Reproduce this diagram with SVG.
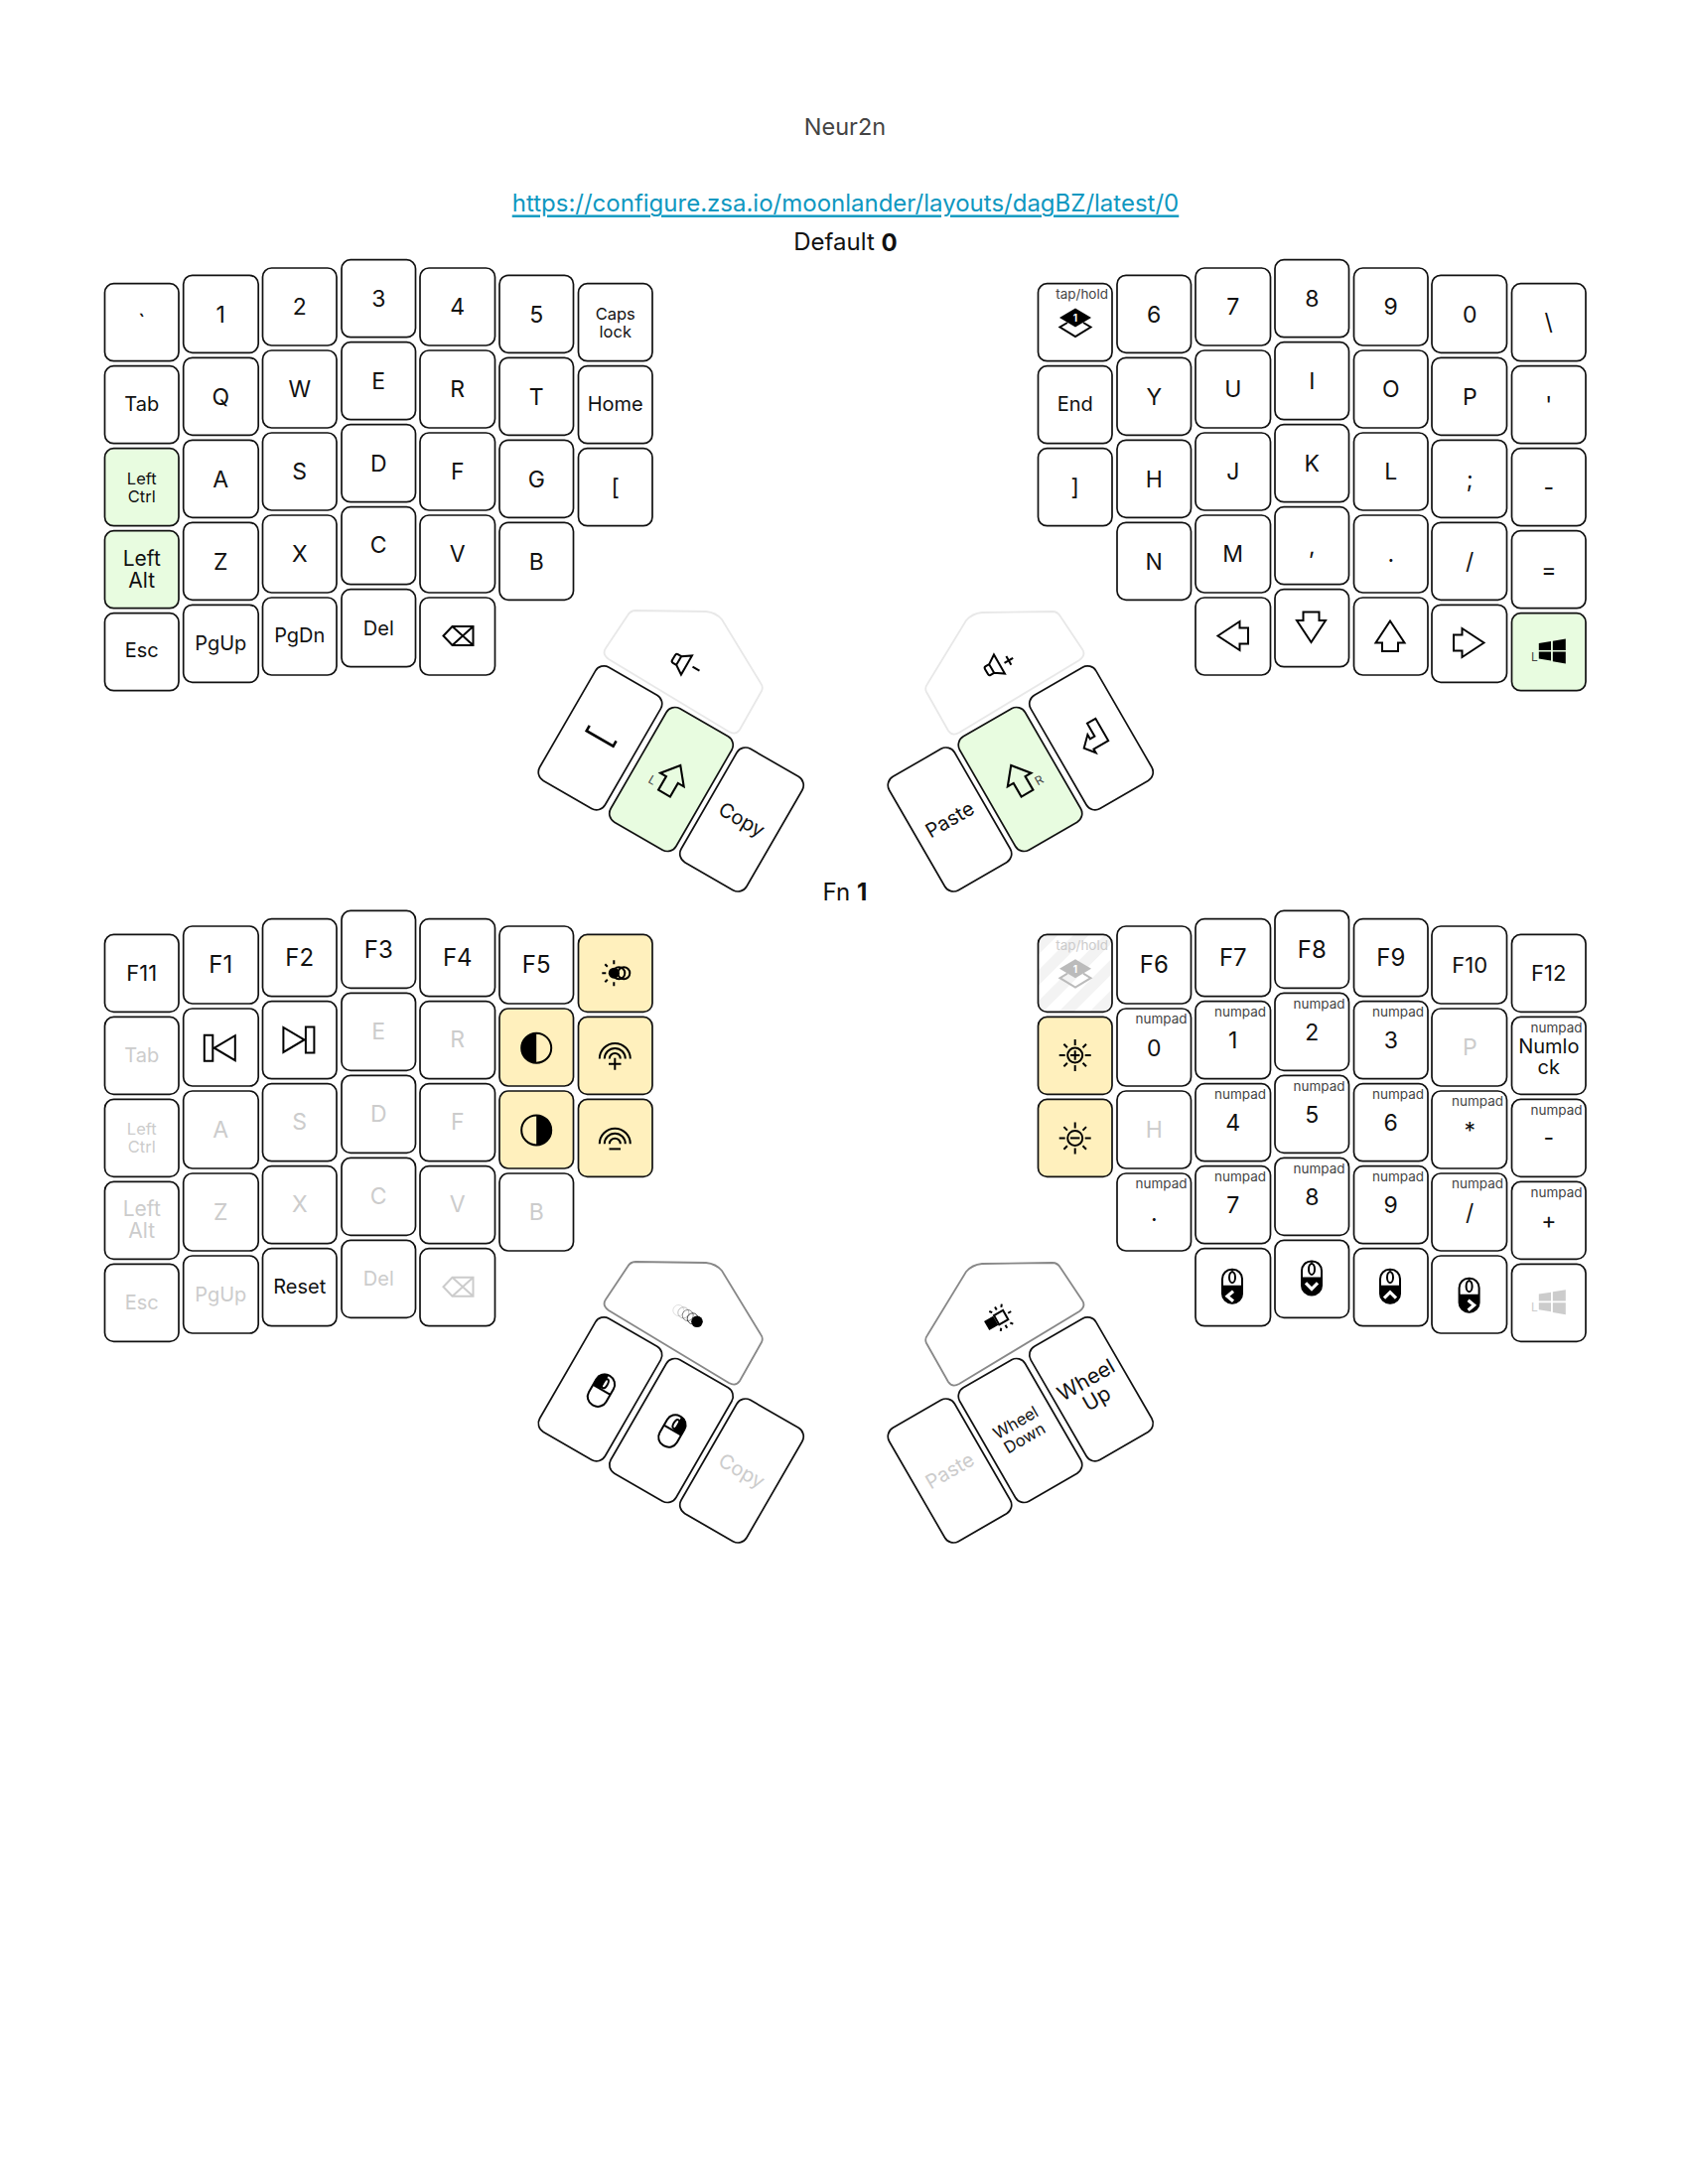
<svg xmlns="http://www.w3.org/2000/svg" width="1700" height="2200" viewBox="0 0 1700 2200">
<style>
text{font-family:Inter,"Noto Sans","Liberation Sans",sans-serif;text-anchor:middle;dominant-baseline:central;fill:#111;font-size:23px}
rect.k{width:74.5px;height:78px;rx:9px;ry:9px;fill:#fff;stroke:#111;stroke-width:1.7}
rect.w{width:75.5px}
rect.th{width:76px;height:132px;rx:10px;ry:10px;fill:#fff;stroke:#111;stroke-width:1.7}
.pent{fill:#fff;stroke:#e8e8e8;stroke-width:1.8}
.pent2{fill:#fff;stroke:#888;stroke-width:1.8}
rect.g{fill:#e8fce0}
rect.y{fill:#fff0bd}
rect.h{fill:url(#hatch)}
text.s{font-size:20px}
text.f{font-size:24px}
text.e{font-size:22px}
text.a{font-size:21px}
text.m{font-size:16.5px}
text.n{font-size:13.5px;text-anchor:end;fill:#444}
text.b{font-size:24px}
text.off,.off text{fill:#ccc}
text.d{font-size:12px;fill:#444}
.off{color:#ccc}
.ic{fill:none;stroke:currentColor;stroke-width:2}
.fi{fill:currentColor;stroke:none}
.ln{fill:none;stroke:currentColor;stroke-width:2.6}
.ch{fill:none;stroke:#fff;stroke-width:3.2}
</style>
<defs>
<pattern id="hatch" width="22" height="22" patternUnits="userSpaceOnUse" patternTransform="rotate(45)"><rect width="22" height="22" fill="#fff"/><rect width="11" height="22" fill="#f3f3f3"/></pattern>
<g id="i-arrow"><path class="ic" d="M-15,0L7,-14.5V-8H15.5V8H7V14.5Z"/></g>
<g id="i-bs"><path class="ic" d="M-15,0L-6,-9.5H15V9.5H-6ZM-6,-9.5L15,9.5M-6,9.5L15,-9.5" stroke-width="2.3"/></g>
<g id="i-win"><path class="fi" d="M-12.5,-7.5L-1.2,-9.3V-1H-12.5ZM0.5,-9.6L12.5,-11.6V-1H0.5ZM-12.5,0.5H-1.2V8.8L-12.5,7ZM0.5,0.5H12.5V11.6L0.5,9.6Z"/></g>
<g id="i-layer"><path class="ic" d="M-8,5L-15.5,9.5L0,19L15.5,9.5L8,5"/><path class="fi" d="M0,-9.5L16,0L0,9.5L-16,0Z"/></g>
<g id="i-sh"><path class="ic" d="M0,-16L-13,0H-6.5V15H6.5V0H13Z"/></g>
<g id="i-spk"><path class="ic" d="M-5,-5H-9Q-11,-5 -11,-3V3Q-11,5 -9,5H-5L4,11V-11L-5,-5V5"/></g>
<g id="i-mouse"><rect class="ic" x="-10" y="-17" width="20" height="34" rx="9.5"/><path class="fi" d="M-10,-1H10V7.5A10,9.5 0 0 1 -10,7.5Z"/><ellipse class="ic" cx="0" cy="-9" rx="3" ry="5.5" stroke-width="1.6"/><path d="M0,-17V-15" stroke="currentColor" stroke-width="1.5"/></g>
<g id="i-click"><rect class="ic" x="-10" y="-17" width="20" height="34" rx="9.5"/><path class="ic" d="M-10,-1H10"/><ellipse class="ic" cx="0" cy="-8" rx="2.5" ry="5" stroke-width="1.6"/></g>
<g id="i-sun"><circle class="ic" r="7.5"/><path class="ic" d="M-16,0H-10M10,0H16M0,-16V-10M0,10V16M-11.3,-11.3L-7.8,-7.8M11.3,-11.3L7.8,-7.8M-11.3,11.3L-7.8,7.8M11.3,11.3L7.8,7.8"/></g>
<g id="i-arcs"><path class="ic" d="M-15.5,4A15.5,15.5 0 0 1 15.5,4M-10.5,4A10.5,10.5 0 0 1 10.5,4M-5.5,4A5.5,5.5 0 0 1 5.5,4" stroke-width="2.4"/></g>
</defs>
<rect width="1700" height="2200" fill="#fff"/>
<g id="title">
<text class="b" x="851" y="127.5" style="fill:#444;font-size:23.5px">Neur2n</text>
<text class="b" x="851.5" y="204" style="fill:#0e97c0;text-decoration:underline">https://configure.zsa.io/moonlander/layouts/dagBZ/latest/0</text>
<text class="b" x="851.5" y="243.5">Default <tspan font-weight="700">0</tspan></text>
<text class="b" x="851" y="898">Fn <tspan font-weight="700">1</tspan></text>
</g>
<g id="connectors"></g>
<g id="layer0-left">
<g id="k0-l00"><rect class="k" x="105.5" y="285.7"/><text x="142.75" y="324.5">`</text></g>
<g id="k0-l01"><rect class="k" x="105.5" y="368.7"/><text class="s" x="142.75" y="406.5">Tab</text></g>
<g id="k0-l02"><rect class="k g" x="105.5" y="451.7"/><text class="m" x="142.75" y="481.5">Left</text><text class="m" x="142.75" y="499.5">Ctrl</text></g>
<g id="k0-l03"><rect class="k g" x="105.5" y="534.7"/><text class="a" x="142.75" y="562">Left</text><text class="a" x="142.75" y="584">Alt</text></g>
<g id="k0-l04"><rect class="k" x="105.5" y="617.7"/><text class="s" x="142.75" y="655">Esc</text></g>
<g id="k0-l10"><rect class="k w" x="184.7" y="277.3"/><text x="222.25" y="316.5">1</text></g>
<g id="k0-l11"><rect class="k w" x="184.7" y="360.3"/><text x="222.25" y="399.5">Q</text></g>
<g id="k0-l12"><rect class="k w" x="184.7" y="443.3"/><text x="222.25" y="482.5">A</text></g>
<g id="k0-l13"><rect class="k w" x="184.7" y="526.3"/><text x="222.25" y="565.5">Z</text></g>
<g id="k0-l14"><rect class="k w" x="184.7" y="609.3"/><text class="s" x="222.25" y="648">PgUp</text></g>
<g id="k0-l20"><rect class="k" x="264.5" y="270"/><text x="301.75" y="308.8">2</text></g>
<g id="k0-l21"><rect class="k" x="264.5" y="353"/><text x="301.75" y="391.8">W</text></g>
<g id="k0-l22"><rect class="k" x="264.5" y="436"/><text x="301.75" y="474.8">S</text></g>
<g id="k0-l23"><rect class="k" x="264.5" y="519"/><text x="301.75" y="557.8">X</text></g>
<g id="k0-l24"><rect class="k" x="264.5" y="602"/><text class="s" x="301.75" y="640">PgDn</text></g>
<g id="k0-l30"><rect class="k" x="344" y="261.7"/><text x="381.25" y="300.5">3</text></g>
<g id="k0-l31"><rect class="k" x="344" y="344.7"/><text x="381.25" y="383.5">E</text></g>
<g id="k0-l32"><rect class="k" x="344" y="427.7"/><text x="381.25" y="466.5">D</text></g>
<g id="k0-l33"><rect class="k" x="344" y="510.7"/><text x="381.25" y="549">C</text></g>
<g id="k0-l34"><rect class="k" x="344" y="593.7"/><text class="s" x="381.25" y="632.5">Del</text></g>
<g id="k0-l40"><rect class="k w" x="423" y="270"/><text x="460.75" y="308.8">4</text></g>
<g id="k0-l41"><rect class="k w" x="423" y="353"/><text x="460.75" y="391.8">R</text></g>
<g id="k0-l42"><rect class="k w" x="423" y="436"/><text x="460.75" y="474.8">F</text></g>
<g id="k0-l43"><rect class="k w" x="423" y="519"/><text x="460.75" y="557.8">V</text></g>
<g id="k0-l44"><rect class="k w" x="423" y="602"/><use href="#i-bs" transform="translate(461.5,640.5)"/></g>
<g id="k0-l50"><rect class="k" x="503" y="277.3"/><text x="540.25" y="316.5">5</text></g>
<g id="k0-l51"><rect class="k" x="503" y="360.3"/><text x="540.25" y="399.5">T</text></g>
<g id="k0-l52"><rect class="k" x="503" y="443.3"/><text x="540.25" y="482.5">G</text></g>
<g id="k0-l53"><rect class="k" x="503" y="526.3"/><text x="540.25" y="565.5">B</text></g>
<g id="k0-l60"><rect class="k" x="582.5" y="285.7"/><text class="m" x="619.75" y="315.5">Caps</text><text class="m" x="619.75" y="333.5">lock</text></g>
<g id="k0-l61"><rect class="k" x="582.5" y="368.7"/><text class="s" x="619.75" y="406.5">Home</text></g>
<g id="k0-l62"><rect class="k" x="582.5" y="451.7"/><text x="619.75" y="491">[</text></g>
</g>
<g id="layer0-right">
<g id="k0-r00"><rect class="k" x="1045.5" y="285.7"/><text class="n" x="1116" y="296">tap/hold</text><use href="#i-layer" transform="translate(1083,320)"/><text x="1083" y="320" style="font-size:10px;fill:#fff;font-weight:700">1</text></g>
<g id="k0-r01"><rect class="k" x="1045.5" y="368.7"/><text class="s" x="1082.75" y="406.5">End</text></g>
<g id="k0-r02"><rect class="k" x="1045.5" y="451.7"/><text x="1082.75" y="491">]</text></g>
<g id="k0-r10"><rect class="k" x="1125" y="277.3"/><text x="1162.25" y="316.5">6</text></g>
<g id="k0-r11"><rect class="k" x="1125" y="360.3"/><text x="1162.25" y="399.5">Y</text></g>
<g id="k0-r12"><rect class="k" x="1125" y="443.3"/><text x="1162.25" y="482.5">H</text></g>
<g id="k0-r13"><rect class="k" x="1125" y="526.3"/><text x="1162.25" y="565.5">N</text></g>
<g id="k0-r20"><rect class="k w" x="1204" y="270"/><text x="1241.75" y="308.8">7</text></g>
<g id="k0-r21"><rect class="k w" x="1204" y="353"/><text x="1241.75" y="391.8">U</text></g>
<g id="k0-r22"><rect class="k w" x="1204" y="436"/><text x="1241.75" y="474.8">J</text></g>
<g id="k0-r23"><rect class="k w" x="1204" y="519"/><text x="1241.75" y="557.8">M</text></g>
<g id="k0-r24"><rect class="k w" x="1204" y="602"/><use href="#i-arrow" transform="translate(1241.5,640.5)"/></g>
<g id="k0-r30"><rect class="k" x="1284" y="261.7"/><text x="1321.25" y="300.5">8</text></g>
<g id="k0-r31"><rect class="k" x="1284" y="344.7"/><text x="1321.25" y="383.5">I</text></g>
<g id="k0-r32"><rect class="k" x="1284" y="427.7"/><text x="1321.25" y="466.5">K</text></g>
<g id="k0-r33"><rect class="k" x="1284" y="510.7"/><text x="1321.25" y="549.5">,</text></g>
<g id="k0-r34"><rect class="k" x="1284" y="593.7"/><use href="#i-arrow" transform="translate(1320.5,632) rotate(-90)"/></g>
<g id="k0-r40"><rect class="k" x="1363.5" y="270"/><text x="1400.75" y="308.8">9</text></g>
<g id="k0-r41"><rect class="k" x="1363.5" y="353"/><text x="1400.75" y="391.8">O</text></g>
<g id="k0-r42"><rect class="k" x="1363.5" y="436"/><text x="1400.75" y="474.8">L</text></g>
<g id="k0-r43"><rect class="k" x="1363.5" y="519"/><text x="1400.75" y="557.8">.</text></g>
<g id="k0-r44"><rect class="k" x="1363.5" y="602"/><use href="#i-arrow" transform="translate(1400,640.5) rotate(90)"/></g>
<g id="k0-r50"><rect class="k w" x="1442" y="277.3"/><text x="1480.25" y="316.5">0</text></g>
<g id="k0-r51"><rect class="k w" x="1442" y="360.3"/><text x="1480.25" y="399.5">P</text></g>
<g id="k0-r52"><rect class="k w" x="1442" y="443.3"/><text x="1480.25" y="482.5">;</text></g>
<g id="k0-r53"><rect class="k w" x="1442" y="526.3"/><text x="1480.25" y="565.5">/</text></g>
<g id="k0-r54"><rect class="k w" x="1442" y="609.3"/><use href="#i-arrow" transform="translate(1479.5,647.5) rotate(180)"/></g>
<g id="k0-r60"><rect class="k" x="1522.5" y="285.7"/><text x="1559.75" y="324.5">\</text></g>
<g id="k0-r61"><rect class="k" x="1522.5" y="368.7"/><text x="1559.75" y="407.5">'</text></g>
<g id="k0-r62"><rect class="k" x="1522.5" y="451.7"/><text x="1559.75" y="490.5">-</text></g>
<g id="k0-r63"><rect class="k" x="1522.5" y="534.7"/><text x="1559.75" y="573.5">=</text></g>
<g id="k0-r64"><rect class="k g" x="1522.5" y="617.7"/><use href="#i-win" transform="translate(1563.3,656) scale(1.08)"/><text class="d" x="1545.5" y="661">L</text></g>
</g>
<g id="layer0-thumbs">
<g id="k0-tl3"><path class="pent" d="M640,615L711,616Q721,617 727,624L766,688Q769,692 767,696L745,735Q741,741 734,737L613,664Q606,659 610,653L632,620Q635,615 640,615Z"/><g transform="translate(688,668) rotate(30)"><use href="#i-spk"/><path class="ic" d="M10,-1.7H18"/></g></g>
<g id="k0-tl0" transform="rotate(30 604.5 743.3)"><rect class="th" x="566.5" y="677.3"/><path class="ln" d="M589,738V744H620V738"/></g>
<g id="k0-tl1" transform="rotate(30 676 785)"><rect class="th g" x="638" y="719"/><use href="#i-sh" transform="translate(677,785) scale(1.05)"/><text class="d" x="660" y="795">L</text></g>
<g id="k0-tl2" transform="rotate(30 747 825.5)"><rect class="th" x="709" y="759.5"/><text class="s" x="747" y="825.5">Copy</text></g>
<g id="k0-tr3"><path class="pent" transform="translate(1700,1) scale(-1,1)" d="M640,615L711,616Q721,617 727,624L766,688Q769,692 767,696L745,735Q741,741 734,737L613,664Q606,659 610,653L632,620Q635,615 640,615Z"/><g transform="translate(1003,671) rotate(-30)"><use href="#i-spk"/><path class="ic" d="M9,1.5H19M14,-3.5V6.5"/></g></g>
<g id="k0-tr0" transform="translate(1.5,0) rotate(-30 1097.5 743.3)"><rect class="th" x="1059.5" y="677.3"/><path class="ic" transform="translate(1101,743.6)" d="M-15,5L-5,-5V0H.3V-15H10V10.7H-7V15Z"/></g>
<g id="k0-tr1" transform="translate(1.5,0) rotate(-30 1026 785)"><rect class="th g" x="988" y="719"/><use href="#i-sh" transform="translate(1025,785) scale(1.05)"/><text class="d" x="1042" y="795">R</text></g>
<g id="k0-tr2" transform="translate(1,0) rotate(-30 955.5 825.5)"><rect class="th" x="917.5" y="759.5"/><text class="s" x="955.5" y="825.5">Paste</text></g>
</g>
<g id="layer1-left" transform="translate(0,.7)">
<g id="k1-l00"><rect class="k" x="105.5" y="940.7"/><text class="e" x="142.75" y="979">F11</text></g>
<g id="k1-l01"><rect class="k" x="105.5" y="1023.7"/><text class="s off" x="142.75" y="1062">Tab</text></g>
<g id="k1-l02"><rect class="k" x="105.5" y="1106.7"/><text class="m off" x="142.75" y="1136.5">Left</text><text class="m off" x="142.75" y="1154.5">Ctrl</text></g>
<g id="k1-l03"><rect class="k" x="105.5" y="1189.7"/><text class="a off" x="142.75" y="1217">Left</text><text class="a off" x="142.75" y="1239">Alt</text></g>
<g id="k1-l04"><rect class="k" x="105.5" y="1272.7"/><text class="s off" x="142.75" y="1311">Esc</text></g>
<g id="k1-l10"><rect class="k w" x="184.7" y="932.3"/><text class="f" x="222.25" y="971">F1</text></g>
<g id="k1-l11"><rect class="k w" x="184.7" y="1015.3"/><g transform="translate(221.3,1055)"><path class="ic" d="M-15.5,-13H-7V13H-15.5ZM-5.5,0L15.5,-12.5V12.5Z"/></g></g>
<g id="k1-l12"><rect class="k w" x="184.7" y="1098.3"/><text class="off" x="222.25" y="1137">A</text></g>
<g id="k1-l13"><rect class="k w" x="184.7" y="1181.3"/><text class="off" x="222.25" y="1220">Z</text></g>
<g id="k1-l14"><rect class="k w" x="184.7" y="1264.3"/><text class="s off" x="222.25" y="1303">PgUp</text></g>
<g id="k1-l20"><rect class="k" x="264.5" y="925"/><text class="f" x="301.75" y="963.8">F2</text></g>
<g id="k1-l21"><rect class="k" x="264.5" y="1008"/><g transform="translate(300.9,1046.7) scale(-1,1)"><path class="ic" d="M-15.5,-13H-7V13H-15.5ZM-5.5,0L15.5,-12.5V12.5Z"/></g></g>
<g id="k1-l22"><rect class="k" x="264.5" y="1091"/><text class="off" x="301.75" y="1129.8">S</text></g>
<g id="k1-l23"><rect class="k" x="264.5" y="1174"/><text class="off" x="301.75" y="1212.8">X</text></g>
<g id="k1-l24"><rect class="k" x="264.5" y="1257"/><text class="s" x="301.75" y="1295.8">Reset</text></g>
<g id="k1-l30"><rect class="k" x="344" y="916.7"/><text class="f" x="381.25" y="955.5">F3</text></g>
<g id="k1-l31"><rect class="k" x="344" y="999.7"/><text class="off" x="381.25" y="1038.5">E</text></g>
<g id="k1-l32"><rect class="k" x="344" y="1082.7"/><text class="off" x="381.25" y="1121.5">D</text></g>
<g id="k1-l33"><rect class="k" x="344" y="1165.7"/><text class="off" x="381.25" y="1204.5">C</text></g>
<g id="k1-l34"><rect class="k" x="344" y="1248.7"/><text class="s off" x="381.25" y="1287.5">Del</text></g>
<g id="k1-l40"><rect class="k w" x="423" y="925"/><text class="f" x="460.75" y="963.8">F4</text></g>
<g id="k1-l41"><rect class="k w" x="423" y="1008"/><text class="off" x="460.75" y="1046.8">R</text></g>
<g id="k1-l42"><rect class="k w" x="423" y="1091"/><text class="off" x="460.75" y="1129.8">F</text></g>
<g id="k1-l43"><rect class="k w" x="423" y="1174"/><text class="off" x="460.75" y="1212.8">V</text></g>
<g id="k1-l44" class="off"><rect class="k w" x="423" y="1257"/><use href="#i-bs" transform="translate(461.5,1295.5)"/></g>
<g id="k1-l50"><rect class="k" x="503" y="932.3"/><text class="f" x="540.25" y="971">F5</text></g>
<g id="k1-l51"><rect class="k y" x="503" y="1015.3"/><circle class="ic" cx="540.2" cy="1055" r="15"/><path class="fi" d="M540.2,1040A15,15 0 0 0 540.2,1070Z"/></g>
<g id="k1-l52"><rect class="k y" x="503" y="1098.3"/><circle class="ic" cx="540.2" cy="1137.7" r="15"/><path class="fi" d="M540.2,1122.7A15,15 0 0 1 540.2,1152.7Z"/></g>
<g id="k1-l53"><rect class="k" x="503" y="1181.3"/><text class="off" x="540.25" y="1220">B</text></g>
<g id="k1-l60"><rect class="k y" x="582.5" y="940.7"/><g transform="translate(618.3,979.5)"><circle class="ic" cx="10" r="6" stroke-width="1.3"/><circle class="ic" cx="5" r="6" stroke-width="1.3"/><circle class="fi" r="5.5"/><path class="ic" d="M-12,0H-8M0,-13V-9M0,9V13M-9,-9L-6.5,-6.5M-9,9L-6.5,6.5" stroke-width="1.7"/></g></g>
<g id="k1-l61"><rect class="k y" x="582.5" y="1023.7"/><use href="#i-arcs" transform="translate(619.3,1061.7)"/><path class="ic" d="M613,1071H625.5M619.3,1065V1077" stroke-width="2.4"/></g>
<g id="k1-l62"><rect class="k y" x="582.5" y="1106.7"/><use href="#i-arcs" transform="translate(619.3,1147.5)"/><path class="ic" d="M613.5,1156.7H625" stroke-width="2.4"/></g>
</g>
<g id="layer1-right" transform="translate(0,.7)">
<g id="k1-r00" class="off"><rect class="k h" x="1045.5" y="940.7"/><text class="n" x="1116" y="951" style="fill:#ccc">tap/hold</text><g style="color:#bbb"><use href="#i-layer" transform="translate(1083,975)"/></g><text x="1083" y="975" style="font-size:10px;fill:#fff;font-weight:700">1</text></g>
<g id="k1-r01"><rect class="k y" x="1045.5" y="1023.7"/><use href="#i-sun" transform="translate(1082.7,1062.3)"/><path class="ic" d="M1078,1062.3H1087.4M1082.7,1057.6V1067"/></g>
<g id="k1-r02"><rect class="k y" x="1045.5" y="1106.7"/><use href="#i-sun" transform="translate(1082.7,1145.7)"/><path class="ic" d="M1078,1145.7H1087.4"/></g>
<g id="k1-r10"><rect class="k" x="1125" y="932.3"/><text class="f" x="1162.25" y="971">F6</text></g>
<g id="k1-r11"><rect class="k" x="1125" y="1015.3"/><text class="n" x="1195.5" y="1025.8">numpad</text><text x="1162.25" y="1055">0</text></g>
<g id="k1-r12"><rect class="k" x="1125" y="1098.3"/><text class="off" x="1162.25" y="1137">H</text></g>
<g id="k1-r13"><rect class="k" x="1125" y="1181.3"/><text class="n" x="1195.5" y="1191.8">numpad</text><text x="1162.25" y="1221">.</text></g>
<g id="k1-r20"><rect class="k w" x="1204" y="925"/><text class="f" x="1241.75" y="963.8">F7</text></g>
<g id="k1-r21"><rect class="k w" x="1204" y="1008"/><text class="n" x="1275" y="1018.5">numpad</text><text x="1241.75" y="1047.8">1</text></g>
<g id="k1-r22"><rect class="k w" x="1204" y="1091"/><text class="n" x="1275" y="1101.5">numpad</text><text x="1241.75" y="1130.8">4</text></g>
<g id="k1-r23"><rect class="k w" x="1204" y="1174"/><text class="n" x="1275" y="1184.5">numpad</text><text x="1241.75" y="1213.8">7</text></g>
<g id="k1-r24"><rect class="k w" x="1204" y="1257"/><g transform="translate(1241,1295)"><use href="#i-mouse"/><path class="ch" d="M1,5L-5,10L1,15"/></g></g>
<g id="k1-r30"><rect class="k" x="1284" y="916.7"/><text class="f" x="1321.25" y="955.5">F8</text></g>
<g id="k1-r31"><rect class="k" x="1284" y="999.7"/><text class="n" x="1354.5" y="1010.2">numpad</text><text x="1321.25" y="1039.5">2</text></g>
<g id="k1-r32"><rect class="k" x="1284" y="1082.7"/><text class="n" x="1354.5" y="1093.2">numpad</text><text x="1321.25" y="1122.5">5</text></g>
<g id="k1-r33"><rect class="k" x="1284" y="1165.7"/><text class="n" x="1354.5" y="1176.2">numpad</text><text x="1321.25" y="1205.5">8</text></g>
<g id="k1-r34"><rect class="k" x="1284" y="1248.7"/><g transform="translate(1321,1286.7)"><use href="#i-mouse"/><path class="ch" d="M-6,5L0,11L6,5"/></g></g>
<g id="k1-r40"><rect class="k" x="1363.5" y="925"/><text class="f" x="1400.75" y="963.8">F9</text></g>
<g id="k1-r41"><rect class="k" x="1363.5" y="1008"/><text class="n" x="1434" y="1018.5">numpad</text><text x="1400.75" y="1047.8">3</text></g>
<g id="k1-r42"><rect class="k" x="1363.5" y="1091"/><text class="n" x="1434" y="1101.5">numpad</text><text x="1400.75" y="1130.8">6</text></g>
<g id="k1-r43"><rect class="k" x="1363.5" y="1174"/><text class="n" x="1434" y="1184.5">numpad</text><text x="1400.75" y="1213.8">9</text></g>
<g id="k1-r44"><rect class="k" x="1363.5" y="1257"/><g transform="translate(1400,1295)"><use href="#i-mouse"/><path class="ch" d="M-6,12L0,6L6,12"/></g></g>
<g id="k1-r50"><rect class="k w" x="1442" y="932.3"/><text class="e" x="1480.25" y="971">F10</text></g>
<g id="k1-r51"><rect class="k w" x="1442" y="1015.3"/><text class="off" x="1480.25" y="1054">P</text></g>
<g id="k1-r52"><rect class="k w" x="1442" y="1098.3"/><text class="n" x="1514" y="1108.8">numpad</text><text x="1480.25" y="1138">*</text></g>
<g id="k1-r53"><rect class="k w" x="1442" y="1181.3"/><text class="n" x="1514" y="1191.8">numpad</text><text x="1480.25" y="1221">/</text></g>
<g id="k1-r54"><rect class="k w" x="1442" y="1264.3"/><g transform="translate(1479.6,1304)"><use href="#i-mouse"/><path class="ch" d="M-1,5L5,10L-1,15"/></g></g>
<g id="k1-r60"><rect class="k" x="1522.5" y="940.7"/><text class="e" x="1559.75" y="979">F12</text></g>
<g id="k1-r61"><rect class="k" x="1522.5" y="1023.7"/><text class="n" x="1593.5" y="1034.2">numpad</text><text class="s" x="1559.75" y="1053.3">Numlo</text><text class="s" x="1559.75" y="1074.3">ck</text></g>
<g id="k1-r62"><rect class="k" x="1522.5" y="1106.7"/><text class="n" x="1593.5" y="1117.2">numpad</text><text x="1559.75" y="1145.5">-</text></g>
<g id="k1-r63"><rect class="k" x="1522.5" y="1189.7"/><text class="n" x="1593.5" y="1200.2">numpad</text><text x="1559.75" y="1229.5">+</text></g>
<g id="k1-r64" class="off"><rect class="k" x="1522.5" y="1272.7"/><use href="#i-win" transform="translate(1563.3,1311) scale(1.08)"/><text class="d" x="1545.5" y="1316" style="fill:#ccc">L</text></g>
</g>
<g id="layer1-thumbs">
<g id="k1-tl3"><path class="pent2" transform="translate(0,656)" d="M640,615L711,616Q721,617 727,624L766,688Q769,692 767,696L745,735Q741,741 734,737L613,664Q606,659 610,653L632,620Q635,615 640,615Z"/><circle cx="683.3" cy="1320" r="5.5" fill="none" stroke="#000" stroke-opacity=".12"/><circle cx="688.3" cy="1322.3" r="5.5" fill="none" stroke="#000" stroke-opacity=".25"/><circle cx="692.7" cy="1325" r="5.5" fill="none" stroke="#000" stroke-opacity=".45"/><circle cx="697.7" cy="1328.3" r="5.5" fill="none" stroke="#000" stroke-opacity=".7"/><circle cx="702" cy="1331.3" r="5.8" fill="#000"/></g>
<g id="k1-tl0" transform="rotate(30 604.5 1399.3)"><rect class="th" x="566.5" y="1333.3"/><g transform="translate(606,1400)"><use href="#i-click"/><path class="fi" d="M-10.5,-1V-8A10,9.5 0 0 1 -1,-17.5V-1Z"/></g></g>
<g id="k1-tl1" transform="rotate(30 676 1441)"><rect class="th" x="638" y="1375"/><g transform="translate(677,1441)"><use href="#i-click"/><path class="fi" d="M10.5,-1V-8A10,9.5 0 0 0 1,-17.5V-1Z"/></g></g>
<g id="k1-tl2" transform="rotate(30 747 1481.5)"><rect class="th" x="709" y="1415.5"/><text class="s off" x="747" y="1481.5">Copy</text></g>
<g id="k1-tr3"><path class="pent2" transform="translate(1700,657) scale(-1,1)" d="M640,615L711,616Q721,617 727,624L766,688Q769,692 767,696L745,735Q741,741 734,737L613,664Q606,659 610,653L632,620Q635,615 640,615Z"/><g transform="translate(1003.5,1329.5) rotate(-30)"><rect x="-11.5" y="-5" width="10.5" height="10.5" fill="#000"/><rect class="ic" x="0" y="-5" width="10.5" height="10.5" stroke-width="1.5"/><path class="ic" d="M5.2,-12V-8.5M5.2,9V12.5M17,0H13.5M-2,-11L0,-8.5M12.5,-11L10.5,-8.5M12.5,12L10.5,9.5M-2,12L0,9.5" stroke-width="1.5"/></g></g>
<g id="k1-tr0" transform="translate(1.5,0) rotate(-30 1097.5 1399.3)"><rect class="th" x="1059.5" y="1333.3"/><text class="s" x="1097.5" y="1388.5" style="font-size:21px">Wheel</text><text class="s" x="1097.5" y="1410" style="font-size:21px">Up</text></g>
<g id="k1-tr1" transform="translate(1.5,0) rotate(-30 1026 1441)"><rect class="th" x="988" y="1375"/><text class="m" x="1026" y="1431.5">Wheel</text><text class="m" x="1026" y="1449.5">Down</text></g>
<g id="k1-tr2" transform="translate(1,0) rotate(-30 955.5 1481.5)"><rect class="th" x="917.5" y="1415.5"/><text class="s off" x="955.5" y="1481.5">Paste</text></g>
</g>
</svg>
